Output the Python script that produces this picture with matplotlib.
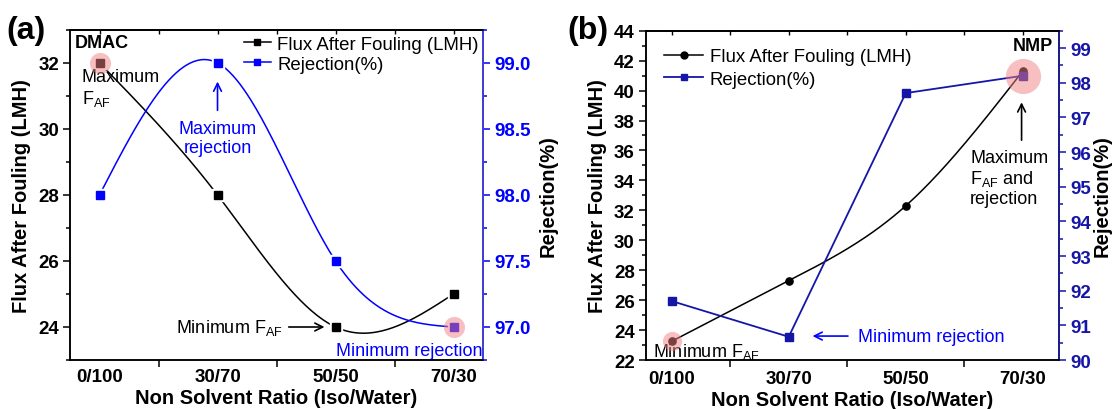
import numpy as np
import matplotlib
matplotlib.use("Agg")
import matplotlib.pyplot as plt
from matplotlib.lines import Line2D
from matplotlib.ticker import FixedLocator, MultipleLocator

plt.rcParams['font.family'] = ['Liberation Sans', 'DejaVu Sans']
plt.rcParams['font.size'] = 13
plt.rcParams['mathtext.default'] = 'regular'
plt.rcParams['axes.linewidth'] = 1.1

# data
ratios = ['0/100', '30/70', '50/50', '70/30']
flux_dmac = [32, 28, 24, 25]
rej_dmac = [98.0, 99.0, 97.5, 97.0]
flux_nmp = [23.25, 27.3, 32.3, 41.3]
rej_nmp = [91.7, 90.67, 97.7, 98.2]

BLUE = '#0000ff'
NAVY = '#1515a8'
PINK = '#f08080'
TICK_FS = 13.5
LABEL_FS = 14.5
LEG_FS = 13.4


def natural_spline(y, n=200):
    # natural cubic spline through points at x = 0..len-1
    y = np.asarray(y, float)
    k = len(y)
    A = np.zeros((k, k))
    b = np.zeros(k)
    A[0, 0] = A[-1, -1] = 1
    for i in range(1, k - 1):
        A[i, i - 1:i + 2] = [1, 4, 1]
        b[i] = 6 * (y[i - 1] - 2 * y[i] + y[i + 1])
    M = np.linalg.solve(A, b)
    xs = np.linspace(0, k - 1, n)
    i = np.minimum(xs.astype(int), k - 2)
    t = xs - i
    u = 1 - t
    ys = y[i] * u + y[i + 1] * t + (M[i] * (u**3 - u) + M[i + 1] * (t**3 - t)) / 6
    return xs, ys


def style_x(ax, xlim, pad, lpad):
    x = np.arange(len(ratios))
    ax.set_xlim(*xlim)
    ax.set_xticks(x)
    ax.set_xticklabels(ratios, fontweight='bold', fontsize=TICK_FS)
    ax.xaxis.set_minor_locator(FixedLocator(x[:-1] + 0.5))
    ax.tick_params(axis='x', which='major', length=0, pad=pad)
    ax.tick_params(axis='x', which='minor', length=5, width=1.1, direction='out')
    top = ax.secondary_xaxis('top')
    top.set_xticks(np.arange(-0.5, len(ratios) + 0.5, 0.5))
    top.set_xticklabels([])
    top.tick_params(direction='in', length=3, width=1)
    ax.set_xlabel('Non Solvent Ratio (Iso/Water)', fontweight='bold',
                  fontsize=LABEL_FS, labelpad=lpad)


def style_y(ax, lim, major, minor, color='black', fmt=None):
    ax.set_ylim(*lim)
    ax.yaxis.set_major_locator(MultipleLocator(major))
    ax.yaxis.set_minor_locator(MultipleLocator(minor))
    if fmt:
        ax.yaxis.set_major_formatter(fmt)
    ax.tick_params(axis='y', which='both', direction='out', width=1.1,
                   colors=color, labelsize=TICK_FS, pad=3)
    ax.tick_params(axis='y', which='major', length=5)
    ax.tick_params(axis='y', which='minor', length=3)
    for t in ax.get_yticklabels():
        t.set_fontweight('bold')


fig = plt.figure(figsize=(11.13, 4.10), dpi=100)
axa = fig.add_axes([0.0629, 0.1195, 0.3711, 0.805])
axb = fig.add_axes([0.5804, 0.1195, 0.3711, 0.8032])
x = np.arange(len(ratios))

# ---------------- (a) DMAC ----------------
xa2 = axa.twinx()
xs, ys = natural_spline(flux_dmac)
axa.plot(xs, ys, color='black', lw=1.1, zorder=2)
axa.plot(x, flux_dmac, 's', color='white', ms=9, zorder=3)
axa.plot(x, flux_dmac, 's', color='black', ms=5.2, zorder=4)
xs, ys = natural_spline(rej_dmac)
xa2.plot(xs, ys, color=BLUE, lw=1.1, zorder=2)
xa2.plot(x, rej_dmac, 's', color='white', ms=9, zorder=3)
xa2.plot(x, rej_dmac, 's', color=BLUE, ms=5.2, zorder=4)

axa.scatter([0], [flux_dmac[0]], s=230, color=PINK, alpha=0.5, lw=0, zorder=5)
xa2.scatter([3], [rej_dmac[3]], s=230, color=PINK, alpha=0.5, lw=0, zorder=5)

style_x(axa, (-0.25, 3.25), 6, 2)
style_y(axa, (23, 33), 2, 1)
axa.set_ylabel('Flux After Fouling (LMH)', fontweight='bold', fontsize=LABEL_FS,
               labelpad=5)
style_y(xa2, (96.75, 99.25), 0.5, 0.25, color=BLUE, fmt='{x:.1f}')
xa2.spines['right'].set_color('#4444ff')
xa2.set_ylabel('Rejection(%)', fontweight='bold', fontsize=LABEL_FS, labelpad=6)

axa.text(0.012, 0.962, 'DMAC', transform=axa.transAxes, fontweight='bold',
         ha='left', va='center')
axa.text(-0.15, 31.85, 'Maximum\nF$_{AF}$', ha='left', va='top', linespacing=1.2)
xa2.annotate('', xy=(1, 98.88), xytext=(1, 98.62),
             arrowprops=dict(arrowstyle='->', color=BLUE, lw=1.2, mutation_scale=14))
xa2.text(1, 98.57, 'Maximum\nrejection', color=BLUE, ha='center', va='top',
         linespacing=1.15)
axa.text(1.55, 24, 'Minimum F$_{AF}$', ha='right', va='center')
axa.annotate('', xy=(1.93, 24), xytext=(1.58, 24),
             arrowprops=dict(arrowstyle='->', color='black', lw=1.2, mutation_scale=14))
axa.text(2.0, 23.3, 'Minimum rejection', color=BLUE, ha='left', va='center')

ha = [Line2D([], [], color='black', marker='s', ms=4.5, lw=1.1),
      Line2D([], [], color=BLUE, marker='s', ms=4.5, lw=1.1)]
axa.legend(ha, ['Flux After Fouling (LMH)', 'Rejection(%)'], loc='upper left',
           bbox_to_anchor=(0.398, 1.01), frameon=False, handlelength=1.45,
           handletextpad=0.35, labelspacing=0.15, borderaxespad=0.1,
           fontsize=LEG_FS)

fig.text(0.006, 0.925, '(a)', fontsize=23, fontweight='bold', va='center')

# ---------------- (b) NMP ----------------
xb2 = axb.twinx()
xs, ys = natural_spline(flux_nmp)
axb.plot(xs, ys, color='black', lw=1.1, zorder=2)
axb.plot(x, flux_nmp, 'o', color='black', ms=5.2, zorder=4)
xb2.plot(x, rej_nmp, '-s', color=NAVY, lw=1.3, ms=5.2, zorder=4)

axb.scatter([0], [flux_nmp[0]], s=190, color=PINK, alpha=0.5, lw=0, zorder=5)
xb2.scatter([3], [rej_nmp[3]], s=640, color=PINK, alpha=0.5, lw=0, zorder=5)

style_x(axb, (-0.22, 3.31), 7, 2)
style_y(axb, (22, 44), 2, 1)
axb.set_ylabel('Flux After Fouling (LMH)', fontweight='bold', fontsize=LABEL_FS,
               labelpad=5)
style_y(xb2, (90, 99.5), 1, 0.5, color=NAVY)
xb2.spines['right'].set_color(NAVY)
xb2.set_ylabel('Rejection(%)', fontweight='bold', fontsize=LABEL_FS, labelpad=1)

axb.text(0.985, 0.954, 'NMP', transform=axb.transAxes, fontweight='bold',
         ha='right', va='center')
axb.annotate('', xy=(2.99, 39.4), xytext=(2.99, 36.5),
             arrowprops=dict(arrowstyle='->', color='black', lw=1.2, mutation_scale=14))
axb.text(2.55, 36.1, 'Maximum\nF$_{AF}$ and\nrejection', ha='left', va='top',
         linespacing=1.15)
axb.text(-0.16, 22.6, 'Minimum F$_{AF}$', ha='left', va='center')
axb.annotate('', xy=(1.18, 23.6), xytext=(1.53, 23.6),
             arrowprops=dict(arrowstyle='->', color=BLUE, lw=1.2, mutation_scale=14))
axb.text(1.59, 23.6, 'Minimum rejection', color=BLUE, ha='left', va='center')

hb = [Line2D([], [], color='black', marker='o', ms=5, lw=1.1),
      Line2D([], [], color=NAVY, marker='s', ms=5, lw=1.3)]
axb.legend(hb, ['Flux After Fouling (LMH)', 'Rejection(%)'], loc='upper left',
           bbox_to_anchor=(0.022, 0.975), frameon=False, handlelength=2.1,
           handletextpad=0.35, labelspacing=0.3, borderaxespad=0.1,
           fontsize=LEG_FS)

fig.text(0.51, 0.925, '(b)', fontsize=23, fontweight='bold', va='center')

fig.savefig('out.png', dpi=100)
